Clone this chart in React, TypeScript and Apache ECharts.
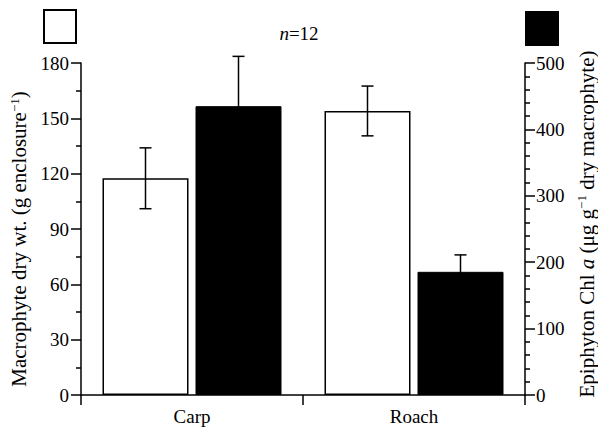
import React, { useEffect, useRef } from "react";
import * as echarts from "echarts";

const categories = ["Carp", "Roach"];
const macrophyteMean = [117.5, 154];
const macrophyteErr = [16.5, 13.5];
const chlMean = [435, 185.5];
const chlErr = [75, 25.5];

const FONT = "'Liberation Serif', 'Times New Roman', serif";

export default function App() {
  const ref = useRef<HTMLDivElement>(null);
  useEffect(() => {
    if (!ref.current) return;
    const chart = echarts.init(ref.current, undefined, { renderer: "svg" });
    const BAR_W = 86;
    const GAP = 7;
    const errRender = (offset: number) => (params: any, api: any) => {
      const x = api.value(0);
      const v = api.value(1);
      const e = api.value(2);
      const top = api.coord([x, v + e]);
      const bot = api.coord([x, v - e]);
      const cx = top[0] + offset;
      const cap = 6;
      const style = { stroke: "#000", lineWidth: 1.5 };
      return {
        type: "group",
        children: [
          { type: "line", shape: { x1: cx, y1: top[1], x2: cx, y2: bot[1] }, style },
          { type: "line", shape: { x1: cx - cap, y1: top[1], x2: cx + cap, y2: top[1] }, style },
          { type: "line", shape: { x1: cx - cap, y1: bot[1], x2: cx + cap, y2: bot[1] }, style },
        ],
      };
    };
    const axisCommon = {
      axisLine: { show: true, lineStyle: { color: "#000", width: 1.5 } },
      axisTick: { show: true, inside: false, length: 10, lineStyle: { color: "#000", width: 1.5 } },
      minorTick: { show: true, length: 5, lineStyle: { color: "#000", width: 1.5 } },
      splitLine: { show: false },
      axisLabel: { color: "#000", fontFamily: FONT, fontSize: 19, margin: 12 },
      nameLocation: "middle" as const,
      nameRotate: 90,
    };
    chart.setOption({
      animation: false,
      title: {
        text: "{i|n}{a|=12}",
        left: "center",
        top: 19,
        textStyle: {
          fontWeight: "normal",
          fontFamily: FONT,
          rich: {
            i: { fontFamily: FONT, fontSize: 19, fontStyle: "italic", fontWeight: "normal", color: "#000" },
            a: { fontFamily: FONT, fontSize: 19, fontWeight: "normal", color: "#000" },
          },
        },
      },
      legend: [
        {
          data: ["Macrophyte"],
          left: 43,
          top: 9,
          padding: 0,
          itemWidth: 32,
          itemHeight: 33,
          icon: "rect",
          formatter: () => "",
          selectedMode: false,
        },
        {
          data: ["Epiphyton"],
          left: 525,
          top: 11,
          padding: 0,
          itemWidth: 32,
          itemHeight: 33,
          icon: "rect",
          formatter: () => "",
          selectedMode: false,
        },
      ],
      grid: { left: 81, right: 73, top: 63, bottom: 38, containLabel: false, outerBoundsMode: "none" },
      xAxis: {
        type: "category",
        data: categories,
        axisLine: { lineStyle: { color: "#000", width: 1.5 } },
        axisTick: { show: true, length: 10, alignWithLabel: false, lineStyle: { color: "#000", width: 1.5 } },
        axisLabel: { color: "#000", fontFamily: FONT, fontSize: 19, margin: 12 },
      },
      yAxis: [
        {
          ...axisCommon,
          type: "value",
          position: "left",
          min: 0,
          max: 180,
          interval: 30,
          minorTick: { ...axisCommon.minorTick, splitNumber: 2 },
          name: "{a|Macrophyte dry wt. (g enclosure}{s|−1}{a|)}",
          nameGap: 43,
          nameTextStyle: {
            fontFamily: FONT,
            padding: [0, 20, 0, 0],
            rich: {
              a: { fontFamily: FONT, fontSize: 21, color: "#000", lineHeight: 23 },
              s: { fontFamily: FONT, fontSize: 13, color: "#000", verticalAlign: "top" },
            },
          },
        },
        {
          ...axisCommon,
          type: "value",
          position: "right",
          min: 0,
          max: 500,
          interval: 100,
          minorTick: { ...axisCommon.minorTick, splitNumber: 5 },
          axisLabel: { ...axisCommon.axisLabel, margin: 11 },
          name: "{a|Epiphyton Chl }{i|a}{a| (μg g}{s|−1}{a| dry macrophyte)}",
          nameGap: 50,
          nameTextStyle: {
            fontFamily: FONT,
            padding: [0, 0, 0, 10],
            rich: {
              a: { fontFamily: FONT, fontSize: 21, color: "#000", lineHeight: 23 },
              i: { fontFamily: FONT, fontSize: 21, fontStyle: "italic", color: "#000", lineHeight: 23 },
              s: { fontFamily: FONT, fontSize: 13, color: "#000", verticalAlign: "top" },
            },
          },
        },
      ],
      series: [
        {
          name: "Macrophyte",
          type: "bar",
          yAxisIndex: 0,
          data: macrophyteMean,
          barWidth: BAR_W,
          barGap: `${(GAP / BAR_W) * 100}%`,
          itemStyle: { color: "#fff", borderColor: "#000", borderWidth: 1.5 },
        },
        {
          name: "Epiphyton",
          type: "bar",
          yAxisIndex: 1,
          data: chlMean,
          barWidth: BAR_W,
          barGap: `${(GAP / BAR_W) * 100}%`,
          itemStyle: { color: "#000", borderColor: "#000", borderWidth: 1 },
        },
        {
          type: "custom",
          yAxisIndex: 0,
          renderItem: errRender(-(BAR_W + GAP) / 2),
          data: macrophyteMean.map((v, i) => [i, v, macrophyteErr[i]]),
          z: 10,
          silent: true,
        },
        {
          type: "custom",
          yAxisIndex: 1,
          renderItem: errRender((BAR_W + GAP) / 2),
          data: chlMean.map((v, i) => [i, v, chlErr[i]]),
          z: 10,
          silent: true,
        },
      ],
    });
    return () => chart.dispose();
  }, []);
  return <div ref={ref} style={{ width: 598, height: 433, position: "absolute", left: 0, top: 0, background: "#fff" }} />;
}
